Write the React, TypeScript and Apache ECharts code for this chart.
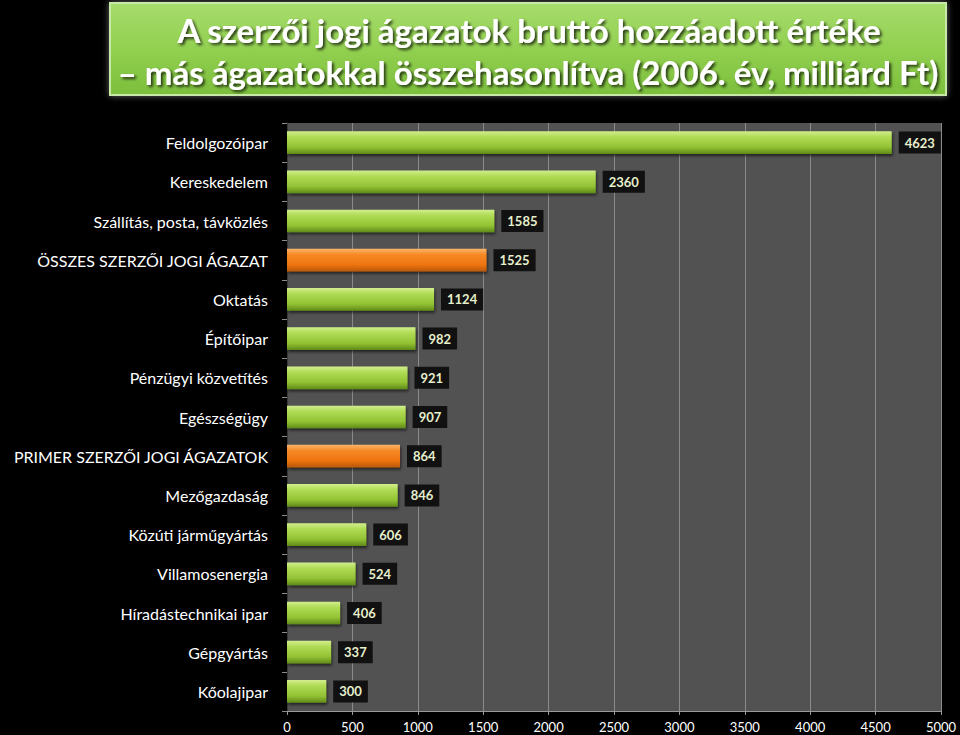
import React, { useEffect, useRef } from "react";
import * as echarts from "echarts";

const categories = [
  "Feldolgozóipar",
  "Kereskedelem",
  "Szállítás, posta, távközlés",
  "ÖSSZES SZERZŐI JOGI ÁGAZAT",
  "Oktatás",
  "Építőipar",
  "Pénzügyi közvetítés",
  "Egészségügy",
  "PRIMER SZERZŐI JOGI ÁGAZATOK",
  "Mezőgazdaság",
  "Közúti járműgyártás",
  "Villamosenergia",
  "Híradástechnikai ipar",
  "Gépgyártás",
  "Kőolajipar",
];
const values = [4623, 2360, 1585, 1525, 1124, 982, 921, 907, 864, 846, 606, 524, 406, 337, 300];
const highlighted = ["ÖSSZES SZERZŐI JOGI ÁGAZAT", "PRIMER SZERZŐI JOGI ÁGAZATOK"];
const titleLines = [
  "A szerzői jogi ágazatok bruttó hozzáadott értéke",
  "– más ágazatokkal összehasonlítva (2006. év, milliárd Ft)",
];

const greenFill = new echarts.graphic.LinearGradient(0, 0, 0, 1, [
  { offset: 0, color: "#d2ee8e" },
  { offset: 0.25, color: "#b0dc55" },
  { offset: 0.7, color: "#93c234" },
  { offset: 1, color: "#5f8a18" },
]);
const orangeFill = new echarts.graphic.LinearGradient(0, 0, 0, 1, [
  { offset: 0, color: "#fbb46e" },
  { offset: 0.25, color: "#f68a26" },
  { offset: 0.7, color: "#ef7410" },
  { offset: 1, color: "#b75606" },
]);

export default function App() {
  const ref = useRef<HTMLDivElement>(null);
  useEffect(() => {
    document.body.style.margin = "0";
    document.body.style.background = "#000";
    const chart = echarts.init(ref.current!, null, { renderer: "svg" });
    const font = "Lato, 'Open Sans', sans-serif";
    const titleStyle = (text: string) => ({
      text,
      fill: "#ffffff",
      font: `bold 33px ${font}`,
      align: "center",
      verticalAlign: "middle",
      textShadowColor: "rgba(0,0,0,0.75)",
      textShadowBlur: 3,
      textShadowOffsetX: 2,
      textShadowOffsetY: 2,
    });
    chart.setOption({
      animation: false,
      backgroundColor: "#000",
      textStyle: { fontFamily: font },
      graphic: [
        {
          type: "rect",
          shape: { x: 110, y: 3, width: 836, height: 92 },
          style: {
            fill: new echarts.graphic.LinearGradient(0, 0, 0, 1, [
              { offset: 0, color: "#a6dc6c" },
              { offset: 0.5, color: "#92d050" },
              { offset: 1, color: "#7cbf3c" },
            ]),
            stroke: "#c8e8a8",
            lineWidth: 2,
            shadowBlur: 6,
            shadowColor: "rgba(255,255,255,0.4)",
          },
        },
        { type: "text", x: 529, y: 30, style: titleStyle(titleLines[0]) },
        { type: "text", x: 528, y: 72, style: titleStyle(titleLines[1]) },
      ],
      grid: {
        left: 287,
        right: 19,
        top: 123,
        bottom: 24,
        containLabel: false,
        show: true,
        backgroundColor: "#525252",
        borderWidth: 0,
      },
      xAxis: {
        type: "value",
        min: 0,
        max: 5000,
        interval: 500,
        axisLine: { show: true, lineStyle: { color: "#9a9a9a", width: 1 } },
        axisTick: { show: true, length: 4, lineStyle: { color: "#9a9a9a" } },
        splitLine: { show: true, lineStyle: { color: "#8a8a8a", width: 1 } },
        axisLabel: {
          color: "#ffffff",
          fontSize: 13,
          margin: 9,
          fontFamily: font,
          formatter: (v: number) => String(v),
        },
      },
      yAxis: {
        type: "category",
        data: categories,
        inverse: true,
        axisLine: { show: true, lineStyle: { color: "#3a3a3a", width: 1 } },
        axisTick: { show: true, length: 5, lineStyle: { color: "#8a8a8a" } },
        axisLabel: { color: "#ffffff", fontSize: 16, margin: 19, fontFamily: font },
      },
      series: [
        {
          type: "bar",
          barCategoryGap: "42%",
          data: values.map((v, i) => ({
            value: v,
            itemStyle: {
              color: highlighted.includes(categories[i]) ? orangeFill : greenFill,
            },
          })),
          itemStyle: {
            shadowBlur: 3,
            shadowColor: "rgba(0,0,0,0.6)",
            shadowOffsetX: 1,
            shadowOffsetY: 2,
          },
          label: {
            show: true,
            position: "right",
            distance: 7,
            color: "#e6efcc",
            fontWeight: "bold",
            fontSize: 13,
            fontFamily: font,
            backgroundColor: "#111111",
            padding: [5, 6, 4, 6],
          },
        },
      ],
    });
    return () => chart.dispose();
  }, []);
  return <div ref={ref} style={{ width: 960, height: 735 }} />;
}
